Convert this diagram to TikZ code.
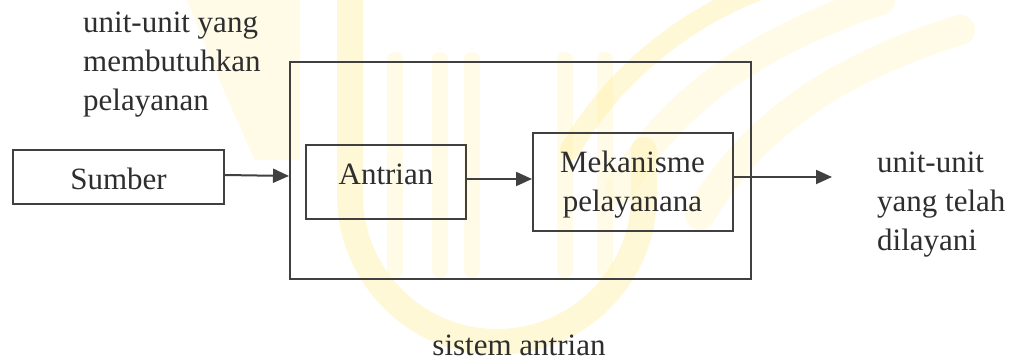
\documentclass[tikz,border=0pt]{standalone}
\usepackage{fontspec}
\setmainfont{Liberation Serif}
\usetikzlibrary{arrows.meta}
\definecolor{ink}{HTML}{2E2E2E}
\definecolor{edge}{HTML}{404040}
\definecolor{wmA}{HTML}{FFEE99}
\definecolor{wmB}{HTML}{FFF5C4}
\tikzset{
  stepbox/.style={draw=edge, line width=2pt, rectangle, inner sep=0pt},
  txt/.style={text=ink, font=\fontsize{31}{39}\selectfont, inner sep=0pt, anchor=base},
  para/.style={txt, align=left, anchor=north west},
  flow/.style={draw=edge, line width=2pt, -{Triangle[length=16pt, width=14pt]}},
  mark band/.style={line width=#1, line cap=round},
}
\begin{document}
\begin{tikzpicture}[x=1pt, y=-1pt]
\useasboundingbox (0,0) rectangle (1013,363);
\fill[white] (0,0) rectangle (1013,363);

% faint logo in the background
\begin{scope}[opacity=0.4]
  \draw[wmA, mark band=26pt] (350,-10) -- (350,195) arc[start angle=180, end angle=0, x radius=147, y radius=147] -- (644,150);
  \foreach \sx in {395,440,472,565,605}
    \draw[wmB, mark band=16pt] (\sx,60) -- (\sx,270);
  \fill[wmB] (185,-5) -- (300,-5) -- (300,160) -- (255,160) .. controls (225,95) and (205,45) .. (185,-5);
  \draw[wmB, mark band=30pt] (620,190) .. controls (670,100) and (760,40) .. (880,0);
  \draw[wmB, mark band=30pt] (700,215) .. controls (750,130) and (830,70) .. (960,30);
  \draw[wmA, mark band=20pt] (570,150) .. controls (610,80) and (680,20) .. (760,-10);
\end{scope}

% system boundary and its blocks
\node[stepbox, minimum width=461pt, minimum height=217pt] (sys) at (520.5,170.5) {};
\node[stepbox, minimum width=211pt, minimum height=54pt] (src) at (118.5,177) {};
\node[stepbox, minimum width=160pt, minimum height=74pt] (que) at (385.5,182) {};
\node[stepbox, minimum width=200pt, minimum height=98pt] (srv) at (633,182) {};

% labels of the blocks
\node[txt] (srcl) at (118.5,190) {Sumber};
\node[txt] (quel) at (386,185) {Antrian};
\node[txt] (srvl1) at (632.5,173) {Mekanisme};
\node[txt] (srvl2) at (632.5,212) {pelayanana};

% flow between the blocks
\coordinate (outend) at (832,177);
\draw[flow] (src.east |- 0,175) -- (sys.west |- 0,176);
\draw[flow] (que.east |- 0,179) -- (srv.west |- 0,179);
\draw[flow] (srv.east |- 0,177) -- (outend);

% side and bottom captions
\node[para] (inlab) at (83,12) {unit-unit yang\\membutuhkan\\pelayanan};
\node[para] (outlab) at (877,152) {unit-unit\\yang telah\\dilayani};
\node[txt] (syslab) at (519,356) {sistem antrian};
\end{tikzpicture}
\end{document}
